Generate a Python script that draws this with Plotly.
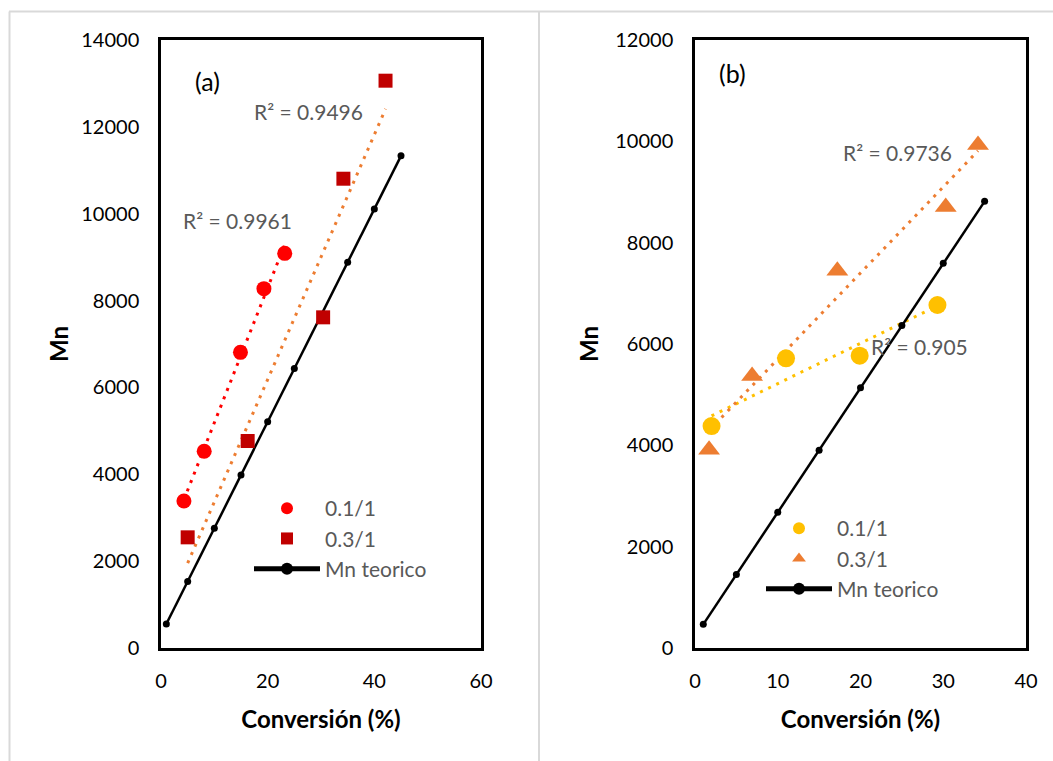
import numpy as np
import plotly.graph_objects as go

W, H = 1053, 761

# ---------------- data (a) ----------------
a_teo_x = [1, 5, 10, 15, 20, 25, 30, 35, 40, 45]
a_teo_y = [553, 1533, 2758, 3983, 5208, 6433, 7658, 8883, 10108, 11333]
a_01_x = [4.3, 8.1, 14.9, 19.3, 23.2]
a_01_y = [3385, 4529, 6808, 8274, 9087]
a_03_x = [5.0, 16.25, 30.4, 34.2, 42.1]
a_03_y = [2548, 4766, 7614, 10806, 13063]

# ---------------- data (b) ----------------
b_teo_x = [1, 5, 10, 15, 20, 25, 30, 35]
b_teo_y = [467, 1450, 2680, 3905, 5135, 6365, 7595, 8815]
b_01_x = [2.0, 11.0, 19.9, 29.3]
b_01_y = [4381, 5717, 5770, 6770]
b_03_x = [1.7, 6.9, 17.2, 30.3, 34.2]
b_03_y = [3914, 5368, 7444, 8704, 9928]

r2_labels = ["R² = 0.9961", "R² = 0.9496", "R² = 0.9736", "R² = 0.905"]
series_names = ["0.1/1", "0.3/1", "Mn teorico"]
x_title = "Conversión (%)"
y_title = "Mn"

FONT = "Lato"
GRAY = "#595959"
RED = "#FF0000"
DRED = "#C00000"
ORANGE = "#ED7D31"
YELLOW = "#FFC000"


def trend(xs, ys):
    xs = np.array(xs, float)
    ys = np.array(ys, float)
    m, c = np.polyfit(xs, ys, 1)
    xx = np.array([xs.min(), xs.max()])
    return xx, m * xx + c


fig = go.Figure()

DOT = "3px,6px"

# ---- panel (a)
tx, ty = trend(a_01_x, a_01_y)
fig.add_trace(go.Scatter(x=tx, y=ty, mode="lines", line=dict(color=RED, width=3, dash=DOT),
                         showlegend=False, xaxis="x", yaxis="y", hoverinfo="skip"))
tx, ty = trend(a_03_x, a_03_y)
fig.add_trace(go.Scatter(x=tx, y=ty, mode="lines", line=dict(color=ORANGE, width=3, dash=DOT),
                         showlegend=False, xaxis="x", yaxis="y", hoverinfo="skip"))
fig.add_trace(go.Scatter(x=a_teo_x, y=a_teo_y, mode="lines+markers", name=series_names[2],
                         line=dict(color="black", width=2.5), marker=dict(color="black", size=7),
                         xaxis="x", yaxis="y", legend="legend", legendrank=3))
fig.add_trace(go.Scatter(x=a_01_x, y=a_01_y, mode="markers", name=series_names[0],
                         marker=dict(color=RED, size=15, symbol="circle"),
                         xaxis="x", yaxis="y", legend="legend", legendrank=1))
fig.add_trace(go.Scatter(x=a_03_x, y=a_03_y, mode="markers", name=series_names[1],
                         marker=dict(color=DRED, size=14, symbol="square"),
                         xaxis="x", yaxis="y", legend="legend", legendrank=2))

# ---- panel (b)
tx, ty = trend(b_01_x, b_01_y)
fig.add_trace(go.Scatter(x=tx, y=ty, mode="lines", line=dict(color=YELLOW, width=3, dash=DOT),
                         showlegend=False, xaxis="x2", yaxis="y2", hoverinfo="skip"))
tx, ty = trend(b_03_x, b_03_y)
fig.add_trace(go.Scatter(x=tx, y=ty, mode="lines", line=dict(color=ORANGE, width=3, dash=DOT),
                         showlegend=False, xaxis="x2", yaxis="y2", hoverinfo="skip"))
fig.add_trace(go.Scatter(x=b_teo_x, y=b_teo_y, mode="lines+markers", name=series_names[2],
                         line=dict(color="black", width=2.5), marker=dict(color="black", size=7),
                         xaxis="x2", yaxis="y2", legend="legend2", legendrank=3))
fig.add_trace(go.Scatter(x=b_01_x, y=b_01_y, mode="markers", name=series_names[0],
                         marker=dict(color=YELLOW, size=18, symbol="circle"),
                         xaxis="x2", yaxis="y2", legend="legend2", legendrank=1))
fig.add_trace(go.Scatter(x=b_03_x, y=b_03_y, mode="markers", name=series_names[1],
                         marker=dict(color=ORANGE, size=19, symbol="triangle-up"),
                         xaxis="x2", yaxis="y2", legend="legend2", legendrank=2))


def px(xp):
    """pixel x -> paper fraction"""
    return xp / W


def py(yp):
    """pixel y -> paper fraction"""
    return 1 - yp / H


axis_common = dict(showline=True, mirror=True, linecolor="black", linewidth=2.5,
                   showgrid=False, zeroline=False, ticks="", tickformat="d",
                   automargin=False,
                   tickfont=dict(family=FONT, size=20, color="black"))
title_font = dict(family=FONT, size=24, color="black")

fig.update_layout(
    width=W, height=H,
    margin=dict(l=0, r=0, t=0, b=0, autoexpand=False),
    paper_bgcolor="white", plot_bgcolor="white",
    font=dict(family=FONT),
    xaxis=dict(domain=[px(161), px(481)], range=[0, 60], dtick=20, anchor="y",
               title=dict(text=f"<b>{x_title}</b>", font=title_font, standoff=21),
               ticklabelstandoff=13, **axis_common),
    yaxis=dict(domain=[py(648), py(40)], range=[0, 14000], dtick=2000, anchor="x",
               title=dict(text=f"<b>{y_title}</b>", font=title_font, standoff=6),
               ticklabelstandoff=15, **axis_common),
    xaxis2=dict(domain=[px(695), px(1026)], range=[0, 40], dtick=10, anchor="y2",
                title=dict(text=f"<b>{x_title}</b>", font=title_font, standoff=21),
                ticklabelstandoff=13, **axis_common),
    yaxis2=dict(domain=[py(648), py(40)], range=[0, 12000], dtick=2000, anchor="x2",
                title=dict(text=f"<b>{y_title}</b>", font=title_font, standoff=10),
                ticklabelstandoff=15, **axis_common),
    legend=dict(x=px(249), y=py(488), xanchor="left", yanchor="top", bgcolor="rgba(0,0,0,0)",
                font=dict(family=FONT, size=21, color=GRAY), itemsizing="constant",
                itemwidth=66, traceorder="normal"),
    legend2=dict(x=px(761), y=py(508), xanchor="left", yanchor="top", bgcolor="rgba(0,0,0,0)",
                 font=dict(family=FONT, size=21, color=GRAY), itemsizing="constant",
                 itemwidth=66, traceorder="normal"),
    showlegend=True,
)

ann = [
    dict(text="(a)", x=8.8, y=13056, xref="x", yref="y", font=dict(size=25, color="black")),
    dict(text=r2_labels[0], x=14.4, y=9855, xref="x", yref="y", font=dict(size=21, color=GRAY)),
    dict(text=r2_labels[1], x=27.6, y=12365, xref="x", yref="y", font=dict(size=21, color=GRAY)),
    dict(text="(b)", x=4.55, y=11349, xref="x2", yref="y2", font=dict(size=25, color="black")),
    dict(text=r2_labels[2], x=24.5, y=9770, xref="x2", yref="y2", font=dict(size=21, color=GRAY)),
    dict(text=r2_labels[3], x=27.1, y=5947, xref="x2", yref="y2", font=dict(size=21, color=GRAY)),
]
for a in ann:
    a.update(showarrow=False, xanchor="center", yanchor="middle")
    a["font"]["family"] = FONT
fig.update_layout(annotations=ann)

# light gray outer frame lines of the two chart areas
frame = dict(color="#D9D9D9", width=2)
fig.add_shape(type="line", xref="paper", yref="paper", x0=px(9), x1=1, y0=py(11.5), y1=py(11.5), line=frame)
fig.add_shape(type="line", xref="paper", yref="paper", x0=px(9.5), x1=px(9.5), y0=py(11.5), y1=0, line=frame)
fig.add_shape(type="line", xref="paper", yref="paper", x0=px(539), x1=px(539), y0=py(11.5), y1=0, line=frame)

fig.write_html("out.html")
